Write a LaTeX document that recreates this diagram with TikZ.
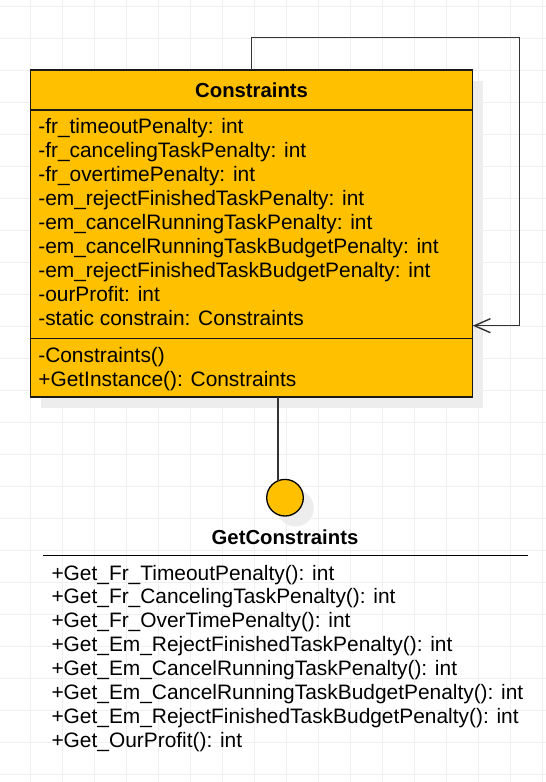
\documentclass[tikz,border=0pt]{standalone}
\usepackage{fontspec}
\setmainfont{Liberation Sans}
\usetikzlibrary{arrows.meta,calc}
\definecolor{amber}{HTML}{FFC000}
\definecolor{gridc}{HTML}{EFEFEF}
\definecolor{shadowc}{HTML}{EDEDED}
\definecolor{linec}{HTML}{333333}
\begin{document}
\begin{tikzpicture}[x=1pt,y=-1pt,
  every node/.style={inner sep=0pt, outer sep=0pt},
  txt/.style={font=\fontsize{20.9}{24}\selectfont},
  member/.style={txt, anchor=base west},
  titletxt/.style={anchor=base, font=\fontsize{20.3}{24}\selectfont\bfseries},
  classbox/.style={draw=black!90, fill=amber, line width=1.4pt,
    minimum width=442.2pt, minimum height=327pt},
  lollibox/.style={circle, draw=black, fill=amber, line width=1.3pt, minimum size=36.6pt},
  conn/.style={draw=linec, line width=1.4pt},
  sepline/.style={draw=black!90, line width=1.3pt},
  gridline/.style={draw=gridc, line width=1pt},
  shadowfill/.style={fill=shadowc}
]
% background and grid
\fill[white] (0,0) rectangle (546,782);
\useasboundingbox (0,0) rectangle (546,782);
\foreach \k in {0,...,16} \draw[gridline] ({30.7+32*\k},0) -- ({30.7+32*\k},782);
\foreach \k in {0,...,24} \draw[gridline] (0,{6.3+32*\k}) -- (546,{6.3+32*\k});

% shadows
\fill[shadowfill] (41,80.5) rectangle (483.3,407.5);
\fill[shadowfill] (295.5,508.2) circle (18.3);

% class box
\node[classbox] (cls) at (251.6,233.5) {};
\coordinate (hsep) at (0,110);
\coordinate (msep) at (0,338.5);
\draw[sepline] (cls.west |- hsep) -- (cls.east |- hsep);
\draw[sepline] (cls.west |- msep) -- (cls.east |- msep);
\node[titletxt] (clsname) at (251.6,97.3) {Constraints};

\foreach \t [count=\i] in {
  -fr\_timeoutPenalty: int,
  -fr\_cancelingTaskPenalty: int,
  -fr\_overtimePenalty: int,
  -em\_rejectFinishedTaskPenalty: int,
  -em\_cancelRunningTaskPenalty: int,
  -em\_cancelRunningTaskBudgetPenalty: int,
  -em\_rejectFinishedTaskBudgetPenalty: int,
  -ourProfit: int,
  -static constrain: Constraints}
  \node[member] (attr\i) at (38.3,{133.5+24.06*(\i-1)}) {\t};

\node[member] (meth1) at (38.3,362.7) {-Constraints()};
\node[member] (meth2) at (38.3,386.7) {+GetInstance(): Constraints};

% self loop
\coordinate (loopR) at (519.3,37.7);
\coordinate (ay) at (0,325.7);
\draw[conn, -{Straight Barb[length=16pt,width=14pt]}]
  (cls.north) |- (loopR) -- (loopR |- ay) -- (cls.east |- ay);

% lollipop interface
\node[lollibox] (lolli) at (285,497.7) {};
\coordinate (sx) at (278,0);
\coordinate (stemEnd) at (278,480.6);
\draw[conn] (cls.south -| sx) -- (stemEnd);

\node[titletxt] (iname) at (285,544.3) {GetConstraints};
\coordinate (ilineL) at (42.8,555.7);
\coordinate (ilineR) at (527.5,555.7);
\draw[sepline, draw=black] (ilineL) -- (ilineR);

\foreach \t [count=\i] in {
  +Get\_Fr\_TimeoutPenalty(): int,
  +Get\_Fr\_CancelingTaskPenalty(): int,
  +Get\_Fr\_OverTimePenalty(): int,
  +Get\_Em\_RejectFinishedTaskPenalty(): int,
  +Get\_Em\_CancelRunningTaskPenalty(): int,
  +Get\_Em\_CancelRunningTaskBudgetPenalty(): int,
  +Get\_Em\_RejectFinishedTaskBudgetPenalty(): int,
  +Get\_OurProfit(): int}
  \node[member] (op\i) at (51.5,{580+23.93*(\i-1)}) {\t};
\end{tikzpicture}
\end{document}
